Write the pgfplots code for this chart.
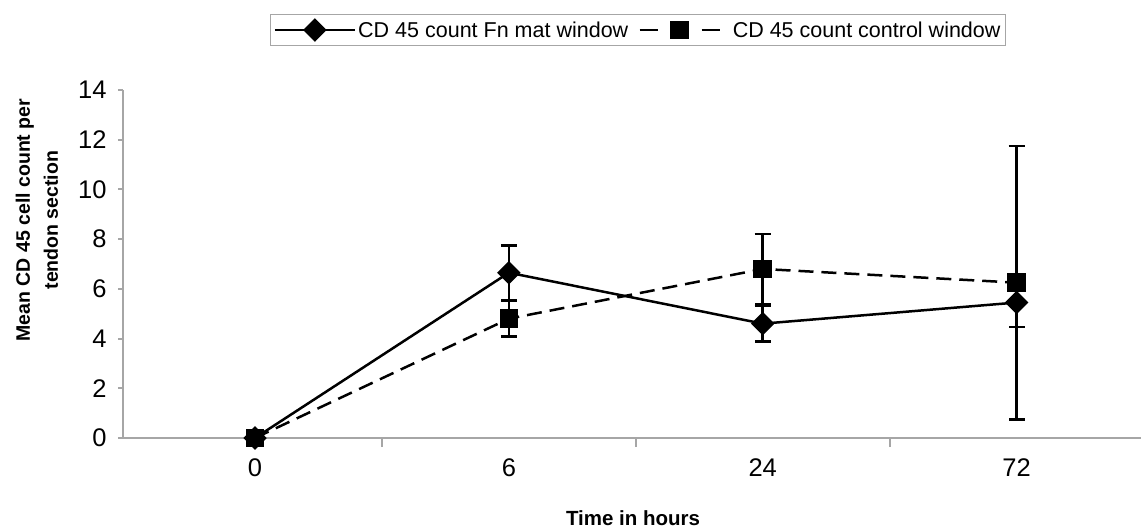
\documentclass[border=0pt]{standalone}
\usepackage{pgfplots}
\pgfplotsset{compat=1.18}
\usepackage{fontspec}
\setmainfont{Liberation Sans}
\begin{document}
\begin{tikzpicture}
\path[use as bounding box] (-123pt,-90pt) rectangle (1018pt,438pt);
\begin{axis}[
  at={(0pt,0pt)}, anchor=south west,
  scale only axis,
  width=1018pt, height=348pt,
  xmin=-0.52, xmax=3.49,
  ymin=0, ymax=14,
  ytick={0,2,4,6,8,10,12,14},
  xtick={0,1,2,3},
  xticklabels={0,6,24,72},
  minor xtick={0.5,1.5,2.5},
  major x tick style={draw=none},
  minor x tick style={draw=gray!70, line width=2pt},
  y tick style={draw=gray!70, line width=2pt},
  tick align=outside,
  major tick length=5pt,
  minor tick length=9pt,
  axis x line*=bottom,
  axis y line*=left,
  axis line style={draw=gray!70, line width=2pt, -},
  /pgf/number format/assume math mode=true,
  ticklabel style={font=\fontsize{25.5}{30}\selectfont},
  yticklabel style={xshift=-8pt},
  xticklabel style={yshift=-12pt},
  xlabel={Time in hours},
  xlabel style={at={(axis description cs:0.501,-0.23)}, anchor=center, font=\fontsize{20.5}{24}\selectfont\bfseries},
  ylabel={Mean CD 45 cell count per\\tendon section},
  ylabel style={at={(axis description cs:-0.0845,0.626)}, anchor=center, rotate=0, align=center, font=\fontsize{19.5}{28}\selectfont\bfseries},
  legend columns=2,
  legend cell align=left,
  legend style={at={(axis description cs:0.506,1.126)}, anchor=south, draw=gray!70, line width=1.2pt,
    font=\fontsize{21.5}{25}\selectfont, inner xsep=3pt, inner ysep=5pt,
    /tikz/every even column/.append style={column sep=8pt}},
  legend image code/.code={\draw[mark repeat=2,mark phase=2,#1] plot coordinates {(0pt,0pt) (40pt,0pt) (80pt,0pt)};},
  clip=false,
]
\addplot[black, line width=2.5pt, mark=diamond*, mark size=10pt, mark options={solid, xscale=1.33},
  error bars/.cd, y dir=both, y explicit,
  error bar style={line width=2.5pt, black, solid},
  error mark options={rotate=90, mark size=8pt, line width=2.5pt, black, solid}]
  coordinates {
  (0,0) +- (0,0)
  (1,6.65) +- (0,1.1)
  (2,4.6) +- (0,0.72)
  (3,5.45) +- (0,0.98)
};
\addlegendentry{CD 45 count Fn mat window}
\addplot[black, line width=2.5pt, dash pattern=on 15pt off 8pt, mark=square*, mark size=8pt, mark options={solid},
  legend image code/.code={\draw[black, line width=2.5pt, dash pattern=on 18pt off 13pt, mark=square*, mark size=8pt, mark options={solid}, mark repeat=2, mark phase=2] plot coordinates {(0pt,0pt) (40pt,0pt) (80pt,0pt)};},
  error bars/.cd, y dir=both, y explicit,
  error bar style={line width=2.5pt, black, solid},
  error mark options={rotate=90, mark size=8pt, line width=2.5pt, black, solid}]
  coordinates {
  (0,0) +- (0,0)
  (1,4.8) +- (0,0.72)
  (2,6.8) +- (0,1.4)
  (3,6.25) +- (0,5.5)
};
\addlegendentry{\hspace{10pt}CD 45 count control window}
\end{axis}
\end{tikzpicture}
\end{document}
